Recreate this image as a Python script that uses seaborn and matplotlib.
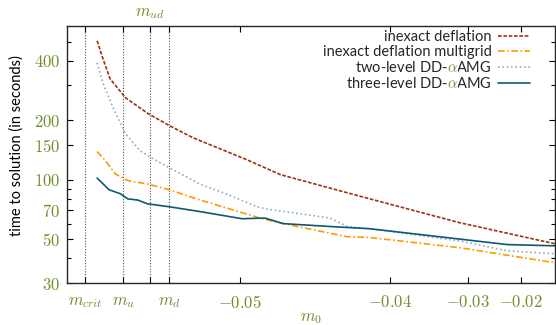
import numpy as np
import pandas as pd
import matplotlib
matplotlib.use("Agg")
from matplotlib import pyplot as plt
import seaborn as sns

# quark mass values (m0) and timings
m_defl = [-0.0540, -0.0539, -0.05376, -0.05345, -0.05294, -0.0524, -0.0517,
          -0.0497, -0.0481, -0.0419, -0.0313, -0.0118]
t_defl = [505, 414, 324, 260, 216, 188, 163, 126, 106, 80, 60.6, 47.4]

m_mg = [-0.0540, -0.05385, -0.05366, -0.0535, -0.0534, -0.05294, -0.0524,
        -0.05148, -0.04903, -0.04797, -0.04382, -0.0419, -0.0313, -0.0118]
t_mg = [139, 125, 107, 102, 99, 95, 89, 79, 63.5, 60, 51.5, 51, 45.3, 38]

m_two = [-0.0540, -0.05389, -0.0537, -0.05345, -0.05313, -0.05294, -0.0524,
         -0.05148, -0.05067, -0.04926, -0.04879, -0.04508, -0.04382, -0.0419,
         -0.0313, -0.0230, -0.0118]
t_two = [391, 306, 231, 171, 140, 132, 115, 95, 86, 73, 71, 64, 58, 56.5,
         49, 43.7, 42.2]

m_three = [-0.0540, -0.05378, -0.05356, -0.0534, -0.05319, -0.05296, -0.0524,
           -0.05148, -0.04992, -0.04889, -0.04797, -0.04508, -0.04301, -0.0419,
           -0.0230, -0.0118]
t_three = [102, 89, 85, 80, 79, 75.6, 73, 69, 63.5, 64, 60, 58, 57, 56.5,
           47, 46.3]

# special masses
m_crit, m_u, m_ud, m_d = -0.0542, -0.0535, -0.0529, -0.0524
num_ticks = [-0.05, -0.04, -0.03, -0.02]
y_major = [30, 50, 70, 100, 150, 200, 400]
y_minor = [40, 60, 80, 90, 300, 500]

labels = ["inexact deflation", "inexact deflation multigrid",
          "two-level DD-$\\alpha$AMG", "three-level DD-$\\alpha$AMG"]
colors = ["#9a3412", "#ff9a00", "#93aac6", "#0f5874"]
dashes = [(2.2, 1.0), (4, 1.5, 1, 1.5), (1, 1.6), ""]

df = pd.concat([
    pd.DataFrame({"m0": m_defl, "t": t_defl, "method": labels[0]}),
    pd.DataFrame({"m0": m_mg, "t": t_mg, "method": labels[1]}),
    pd.DataFrame({"m0": m_two, "t": t_two, "method": labels[2]}),
    pd.DataFrame({"m0": m_three, "t": t_three, "method": labels[3]}),
])

sns.set_theme(style="ticks")
plt.rcParams["mathtext.fontset"] = "cm"
plt.rcParams["font.family"] = ["Lato", "DejaVu Sans"]

green = "#6e8f2a"
SHIFT = 0.057

def fwd(m):
    return np.log(np.maximum(np.asarray(m, dtype=float) + SHIFT, 1e-9))

def inv(t):
    return np.exp(t) - SHIFT

fig = plt.figure(figsize=(5.56, 3.25), dpi=100)
ax = fig.add_axes([0.1205, 0.129, 0.878, 0.791])
ax.set_xscale("function", functions=(fwd, inv))
ax.set_yscale("log")

for lab, col, ds in zip(labels, colors, dashes):
    sub = df[df["method"] == lab]
    sns.lineplot(data=sub, x="m0", y="t", ax=ax, color=col, lw=1.2,
                 sort=False, label=lab, estimator=None)
    line = ax.lines[-1]
    if ds:
        line.set_dashes(ds)

for mv in [m_crit, m_u, m_ud, m_d]:
    ax.axvline(mv, color="#555555", lw=0.8, ls=(0, (1, 1.5)), zorder=0)

ax.set_xlim(-0.05449, -0.0118)
ax.set_ylim(30, 600)

ax.set_xticks([m_crit, m_u, m_ud, m_d] + num_ticks)
ax.set_xticklabels(["$m_{crit}$", "$m_u$", "", "$m_d$"] +
                   ["$%.2f$" % v for v in num_ticks])
ax.xaxis.set_minor_locator(matplotlib.ticker.NullLocator())
ax.set_yticks(y_major)
ax.set_yticklabels(["$%d$" % v for v in y_major])
ax.set_yticks(y_minor, minor=True)
ax.yaxis.set_minor_formatter(matplotlib.ticker.NullFormatter())

ax.tick_params(axis="both", which="both", direction="in", top=True,
               right=True, colors="black", labelcolor=green, labelsize=12,
               width=0.8)
ax.tick_params(axis="both", which="major", length=4)
ax.tick_params(axis="y", which="minor", length=3)
ax.tick_params(axis="x", pad=8)
ax.tick_params(axis="y", pad=5)

ax.text(m_ud, 1.05, "$m_{ud}$", transform=ax.get_xaxis_transform(),
        ha="center", va="center", color=green, fontsize=12)
ax.set_xlabel("$m_0$", color=green, fontsize=12, labelpad=-1)
ax.set_ylabel("time to solution (in seconds)", fontsize=10.5, color="black",
              family=["Lato", "DejaVu Sans"])
ax.yaxis.set_label_coords(-0.088, 0.535)

for sp in ax.spines.values():
    sp.set_linewidth(1.0)

leg = ax.legend(loc="upper right", frameon=False, markerfirst=False,
                fontsize=10.5, handlelength=2.2, handletextpad=0.45,
                labelspacing=0.08, borderaxespad=0, borderpad=0,
                bbox_to_anchor=(0.949, 0.985))

# colour the alpha in the legend entries green
fig.canvas.draw()
r = fig.canvas.get_renderer()
for t in leg.get_texts():
    s = t.get_text()
    if "$\\alpha$" not in s:
        continue
    pre = s.split("$\\alpha$")[0]
    x0, y0 = t.get_transform().transform(t.get_position())
    tmp = fig.text(0, 0, pre, fontproperties=t.get_fontproperties())
    w = tmp.get_window_extent(r).width
    tmp.remove()
    fig.text((x0 + w) / fig.bbox.width, y0 / fig.bbox.height, "$\\alpha$",
             fontproperties=t.get_fontproperties(), color=green,
             ha="left", va="baseline", zorder=10,
             bbox=dict(boxstyle="square,pad=0", fc="white", ec="none"))

fig.savefig("out.png", dpi=100)
